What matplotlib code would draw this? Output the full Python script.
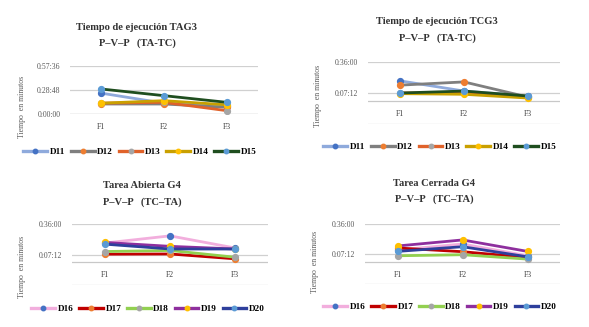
import matplotlib
matplotlib.use("Agg")
import matplotlib.pyplot as plt
from matplotlib.lines import Line2D

W, H = 589, 327
categories = ["F1", "F2", "F3"]

# values in minutes
g3_ta = {
    "D11": [25, 13, 10],
    "D12": [12, 12, 8],
    "D13": [13, 14, 4],
    "D14": [13, 16, 11],
    "D15": [30, 22, 14],
}
g3_tc = {
    "D11": [18.5, 9, 4.4],
    "D12": [14.5, 17.5, 3.4],
    "D13": [7.2, 7.5, 3.8],
    "D14": [6.6, 6, 2.5],
    "D15": [7.2, 9, 4.4],
}
g4_ta = {
    "D16": [18, 24.8, 13.3],
    "D17": [7.5, 7.7, 3.1],
    "D18": [10, 11, 4.6],
    "D19": [18.6, 14.9, 12.4],
    "D20": [17, 12.4, 12.4],
}
g4_tc = {
    "D16": [11, 16.8, 5.5],
    "D17": [13, 9.4, 3.9],
    "D18": [5.5, 6.5, 2.3],
    "D19": [14.9, 20.7, 9.7],
    "D20": [9.7, 14.2, 4.5],
}

styles = {
    "D11": ("#8FAADC", "#4472C4"),
    "D12": ("#7F7F7F", "#ED7D31"),
    "D13": ("#E0622A", "#A5A5A5"),
    "D14": ("#C9A000", "#FFC000"),
    "D15": ("#1F4E1F", "#5B9BD5"),
    "D16": ("#F2AEDD", "#4472C4"),
    "D17": ("#C00000", "#ED7D31"),
    "D18": ("#92D050", "#A5A5A5"),
    "D19": ("#8E2F9E", "#FFC000"),
    "D20": ("#2E3F9C", "#5B9BD5"),
}

SERIF = ["Liberation Serif", "DejaVu Serif"]
plt.rcParams["font.family"] = SERIF

fig = plt.figure(figsize=(W / 100, H / 100), dpi=100)


def fmt(m):
    s = int(round(m * 60))
    return f"{s // 3600}:{(s % 3600) // 60:02d}:{s % 60:02d}"


def panel(box, data, ylim, ticks, titles, title_xy, ylab_xy, legend_xy):
    x0, y0, x1, y1 = box
    ax = fig.add_axes([x0 / W, 1 - y1 / H, (x1 - x0) / W, (y1 - y0) / H])
    ax.set_xlim(-0.5, 2.5)
    ax.set_ylim(*ylim)
    for t in ticks:
        ax.axhline(t, color="#D0D0D0", lw=0.9, zorder=0)
    ax.axhline(0, color="#C8C8C8", lw=0.9, zorder=0)
    ax.set_yticks([t for t in ticks if t >= 0])
    ax.set_yticklabels([fmt(t) for t in ticks if t >= 0], fontsize=5.6, color="#595959")
    ax.tick_params(axis="y", length=0, pad=7)
    ax.set_xticks([])
    for s in ax.spines.values():
        s.set_visible(False)
    for i, c in enumerate(categories):
        ax.annotate(c, (i, 0), xytext=(0, -9.5), textcoords="offset points",
                    ha="center", va="center", fontsize=5.6, color="#404040")
    x = list(range(len(categories)))
    handles = []
    for name, vals in data.items():
        lc, mc = styles[name]
        ax.plot(x, vals, color=lc, lw=2.0, marker="o", markersize=4.2,
                markerfacecolor=mc, markeredgecolor=mc, zorder=3)
        handles.append(Line2D([], [], color=lc, lw=2.4, marker="o", markersize=3.2,
                              markerfacecolor=mc, markeredgecolor=mc))
    ax.patch.set_alpha(0)
    tx, ty1, ty2 = title_xy
    fig.text(tx / W, 1 - ty1 / H, titles[0], ha="center", va="center",
             fontsize=7.6, color="#333333", fontweight="bold")
    fig.text(tx / W, 1 - ty2 / H, titles[1], ha="center", va="center",
             fontsize=7.6, color="#333333", fontweight="bold")
    fig.text(ylab_xy[0] / W, 1 - ylab_xy[1] / H, "Tiempo  en minutos", rotation=90,
             ha="center", va="center", fontsize=5.6, color="#595959")
    fig.legend(handles, list(data.keys()), loc="center",
               bbox_to_anchor=(legend_xy[0] / W, 1 - legend_xy[1] / H),
               ncol=5, frameon=False, handlelength=2.6,
               handletextpad=0.3, columnspacing=0.6, borderpad=0,
               prop={"family": SERIF, "weight": "bold", "size": 6.6})
    return ax


panel((70, 66, 258, 114), g3_ta, (0, 57.6), [0, 28.8, 57.6],
      ("Tiempo de ejecución TAG3", "P\u2013V\u2013P   (TA-TC)"),
      (137, 27, 43), (22, 107), (140, 152))
panel((368, 62, 560, 124), g3_tc, (-21.6, 36), [-21.6, 7.2, 36],
      ("Tiempo de ejecución TCG3", "P\u2013V\u2013P   (TA-TC)"),
      (437, 22, 38), (318, 96), (440, 147))
panel((72, 224, 268, 285), g4_ta, (-21.6, 36), [-21.6, 7.2, 36],
      ("Tarea Abierta G4", "P\u2013V\u2013P   (TC\u2013TA)"),
      (142, 185, 202), (22, 267), (148, 309))
panel((365, 224, 560, 284), g4_tc, (-21.6, 36), [-21.6, 7.2, 36],
      ("Tarea Cerrada G4", "P\u2013V\u2013P   (TC\u2013TA)"),
      (434, 183, 199), (315, 262), (440, 307))

fig.savefig("out.png", dpi=100, facecolor="white")
